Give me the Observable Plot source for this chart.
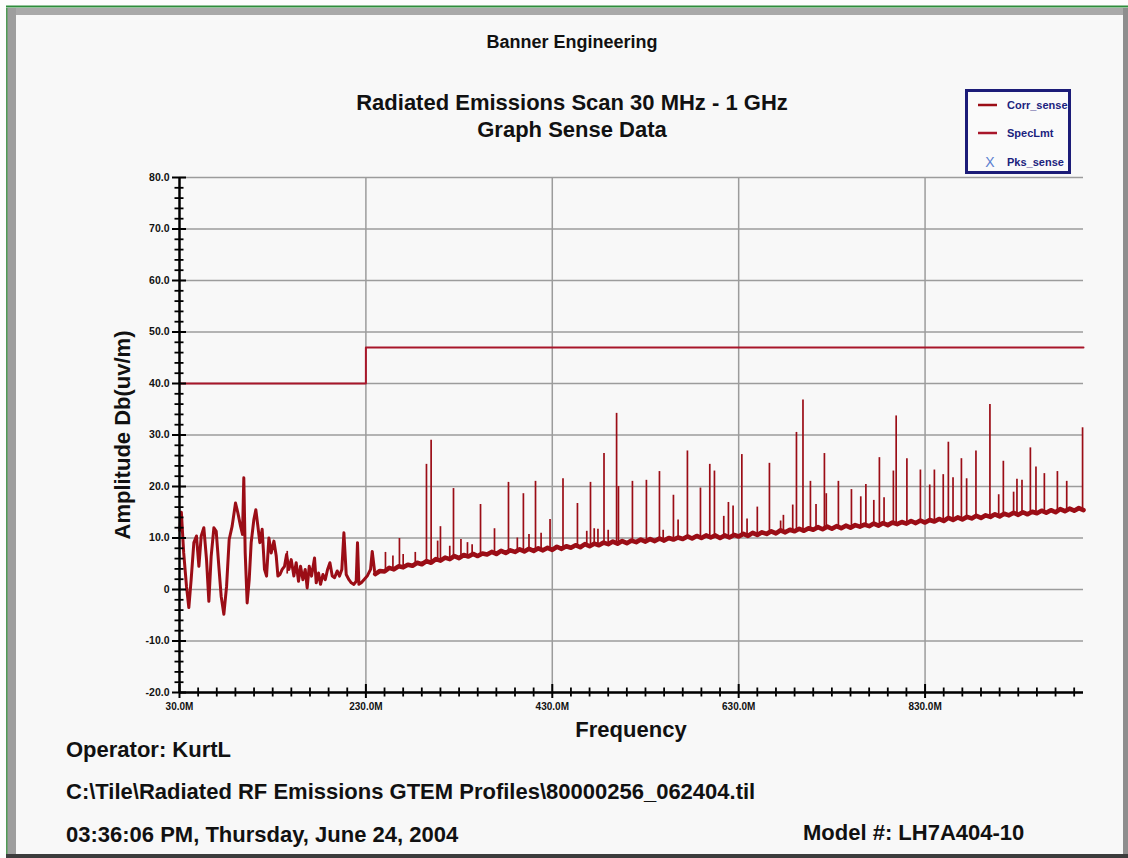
<!DOCTYPE html>
<html>
<head>
<meta charset="utf-8">
<script src="https://cdn.jsdelivr.net/npm/d3@7"></script>
<script src="https://cdn.jsdelivr.net/npm/@observablehq/plot@0.6"></script>
<style>
  html, body { margin: 0; padding: 0; background: #fdfdfd; }
  #chart { position: relative; width: 1128px; height: 858px; }
</style>
</head>
<body>
<div id="chart"></div>
<script>
// ---------- data ----------
const xMajorTicks = [30, 230, 430, 630, 830];
const xTickLabels = ["30.0M", "230.0M", "430.0M", "630.0M", "830.0M"];
const yMajorTicks = [-20, -10, 0, 10, 20, 30, 40, 50, 60, 70, 80];
const yTickLabels = ["-20.0", "-10.0", "0", "10.0", "20.0", "30.0", "40.0", "50.0", "60.0", "70.0", "80.0"];
const xGridLines = [230, 430, 630, 830];

// SpecLmt (limit line) : frequency MHz, amplitude dB
const limitFreq = [30, 230, 1000];
const limitAmp = [40, 47, 47];

// Corr_sense, low-frequency part (30 - 240 MHz) [MHz, dB]
const lowTrace = [
  [30.3, 11.5], [32, 15.0], [34.5, 7.1], [37.5, 0.6], [40, -3.5], [42.5, 1.9], [45.4, 9.1], [48.2, 10.4],
  [50.8, 4.5], [53.3, 10.4], [56.1, 12.0], [59, 5.8], [61.5, -2.3], [64, 6.5], [66.9, 12.0], [69.4, 11.3],
  [72.2, 4.5], [74.7, -1.3], [77.6, -4.8], [80.5, 0.6], [83.3, 9.7], [86.5, 12.3], [90.1, 16.8], [92.6, 14.9],
  [95.5, 12.3], [97.6, 10.7], [99, 21.7], [100.5, 7.1], [102.6, -2.6], [104.8, 1.9], [106.9, 9.1], [109.8, 13.6],
  [111.9, 15.5], [114.1, 12.3], [116.2, 9.1], [118.7, 11.7], [121.2, 3.9], [123.4, 2.6], [125.9, 10.0], [128.4, 7.1],
  [131.3, 9.4], [133.8, 6.5], [135.6, 2.6], [137.7, 2.9], [140.2, 3.9], [142.7, 4.5], [144.9, 6.8], [147.4, 3.9],
  [149.9, 5.8], [152.7, 2.6], [155.2, 5.2], [157.7, 1.6], [159.9, 4.5], [162.4, 1.9], [164.9, 3.9], [167, 0.3],
  [169.2, 4.5], [171.7, 2.6], [174.9, 6.1], [176.7, 1.3], [179.2, 3.2], [181.3, 1.0], [183.9, 2.9], [186.4, 1.9],
  [188.9, 3.9], [191.4, 5.2], [193.9, 2.6], [196.4, 2.3], [199.2, 3.6], [201.7, 2.6], [204.2, 3.9], [206.4, 11.0],
  [208.9, 2.9], [211.8, 1.9], [214.3, 1.3], [217.1, 1.0], [219.6, 1.6], [221, 9.1], [222.5, 1.0], [225, 1.3],
  [227.9, 1.9], [231.4, 2.6], [235, 3.9], [236.8, 7.4], [239.3, 3.6], [240, 3.0]
];

// Corr_sense, noise floor (240 - 1000 MHz) [MHz, dB]
const floorTrace = [
  [240, 3.0], [245, 3.6], [250, 3.5], [255, 4.2], [260, 3.9], [265, 4.5], [270, 4.3], [275, 4.8], [280, 4.6],
  [285, 5.2], [290, 4.9], [295, 5.5], [300, 5.2], [305, 5.9], [310, 5.6], [315, 6.2], [320, 5.9], [325, 6.5],
  [330, 6.1], [335, 6.7], [340, 6.4], [345, 6.9], [350, 6.5], [355, 7.0], [360, 6.8], [365, 7.3], [370, 6.9],
  [375, 7.5], [380, 7.1], [385, 7.6], [390, 7.3], [395, 7.8], [400, 7.4], [405, 7.9], [410, 7.5], [415, 8.0],
  [420, 7.6], [425, 8.1], [430, 7.7], [435, 8.3], [440, 7.9], [445, 8.4], [450, 8.1], [455, 8.6], [460, 8.2],
  [465, 8.8], [470, 8.4], [475, 8.9], [480, 8.6], [485, 9.1], [490, 8.8], [495, 9.3], [500, 8.9], [505, 9.4],
  [510, 9.0], [515, 9.5], [520, 9.2], [525, 9.7], [530, 9.3], [535, 9.8], [540, 9.4], [545, 9.9], [550, 9.5],
  [555, 10.0], [560, 9.7], [565, 10.1], [570, 9.8], [575, 10.3], [580, 9.9], [585, 10.4], [590, 10.0], [595, 10.5],
  [600, 10.1], [605, 10.5], [610, 10.0], [615, 10.5], [620, 10.1], [625, 10.6], [630, 10.3], [635, 10.8], [640, 10.4],
  [645, 11.0], [650, 10.6], [655, 11.1], [660, 10.8], [665, 11.3], [670, 10.9], [675, 11.5], [680, 11.1], [685, 11.6],
  [690, 11.3], [695, 11.8], [700, 11.4], [705, 11.9], [710, 11.6], [715, 12.1], [720, 11.7], [725, 12.2], [730, 11.8],
  [735, 12.3], [740, 11.9], [745, 12.4], [750, 12.0], [755, 12.5], [760, 12.2], [765, 12.6], [770, 12.3], [775, 12.8],
  [780, 12.4], [785, 12.9], [790, 12.5], [795, 13.0], [800, 12.7], [805, 13.1], [810, 12.8], [815, 13.3], [820, 12.9],
  [825, 13.4], [830, 13.0], [835, 13.5], [840, 13.2], [845, 13.7], [850, 13.3], [855, 13.9], [860, 13.5], [865, 14.0],
  [870, 13.6], [875, 14.1], [880, 13.8], [885, 14.3], [890, 13.9], [895, 14.4], [900, 14.1], [905, 14.6], [910, 14.2],
  [915, 14.7], [920, 14.4], [925, 14.9], [930, 14.5], [935, 15.0], [940, 14.6], [945, 15.1], [950, 14.8], [955, 15.3],
  [960, 14.9], [965, 15.4], [970, 15.0], [975, 15.6], [980, 15.2], [985, 15.7], [990, 15.3], [995, 15.8], [1000, 15.4]
];

// Corr_sense, emission spikes [MHz, peak dB, floor dB]
const spikes = [
  [145.6, 7.4, 3.0], [251, 7.2, 3.6], [259, 6.5, 3.9], [266, 9.9, 4.2], [270, 6.8, 4.3], [283, 7.2, 4.8],
  [295, 24.3, 5.3], [300, 29.0, 5.4], [307, 9.4, 5.6], [310, 12.2, 5.7], [320, 8.4, 6.0], [324, 19.6, 6.1],
  [332, 9.7, 6.3], [339, 9.1, 6.5], [344, 8.7, 6.6], [353, 16.5, 6.8], [368, 11.8, 7.1], [383, 20.8, 7.4],
  [392.5, 10.0, 7.5], [399, 18.6, 7.6], [405, 10.7, 7.7], [412, 21.0, 7.8], [418, 10.9, 7.8], [427.6, 13.6, 7.9],
  [441.5, 21.5, 8.1], [457, 16.7, 8.4], [467, 11.3, 8.6], [471, 20.8, 8.6], [475, 11.8, 8.7], [479, 11.7, 8.8],
  [485.5, 26.4, 8.9], [490, 11.5, 8.9], [499, 34.2, 9.0], [501, 20.0, 9.0], [516, 21.0, 9.2], [531, 21.2, 9.4],
  [545, 22.9, 9.6], [549, 11.5, 9.6], [560, 18.3, 9.8], [565, 13.5, 9.9], [575, 26.9, 10.0], [589, 19.7, 10.1],
  [599, 24.3, 10.2], [604, 23.0, 10.2], [614, 14.2, 10.2], [619, 16.9, 10.2], [624, 16.2, 10.3], [633.4, 26.2, 10.4],
  [639, 13.7, 10.5], [650, 16.0, 10.7], [663, 24.5, 10.9], [675, 13.3, 11.1], [678, 14.4, 11.2], [688, 16.4, 11.3],
  [692, 30.5, 11.4], [699, 36.8, 11.5], [707, 21.0, 11.6], [713, 16.5, 11.7], [722, 26.4, 11.9], [724, 18.6, 11.9],
  [737, 21.0, 12.1], [751, 19.4, 12.3], [761, 18.0, 12.4], [766.5, 20.4, 12.5], [775, 17.3, 12.6], [781, 25.6, 12.7],
  [786, 17.8, 12.8], [796, 23.0, 12.9], [799, 33.7, 12.9], [810.5, 25.4, 13.1], [825, 23.2, 13.2], [835, 20.3, 13.3],
  [840, 23.2, 13.4], [849.5, 22.3, 13.5], [855, 28.6, 13.6], [860, 21.7, 13.7], [869, 25.4, 13.8], [874.6, 21.5, 13.9],
  [884.6, 26.9, 14.0], [899.6, 35.9, 14.2], [909, 18.4, 14.4], [914, 24.9, 14.5], [925, 18.9, 14.6], [928.6, 21.4, 14.7],
  [934, 21.2, 14.7], [943, 27.5, 14.9], [949, 23.8, 15.0], [958, 22.5, 15.1], [972, 22.9, 15.3], [982, 21.0, 15.4],
  [999, 31.4, 15.5]
];

const legendItems = ["Corr_sense", "SpecLmt", "Pks_sense"];

// ---------- chart ----------
const traceColor = "#9b0d16";
const limitColor = "#a8162a";
const gridColor = "#9c9c9c";
const limitData = limitFreq.map((f, i) => ({f, a: limitAmp[i]}));
const yMinor = d3.range(-20, 80.1, 2).filter(v => v % 10 !== 0);
const xMinor = d3.range(30, 1000, 20).filter(v => (v - 30) % 200 !== 0);

const plot = Plot.plot({
  width: 1128,
  height: 858,
  marginLeft: 179,
  marginRight: 45,
  marginTop: 177,
  marginBottom: 166,
  x: {domain: [30, 1000]},
  y: {domain: [-20, 80]},
  style: {background: "transparent", fontFamily: "Liberation Sans, Arial, sans-serif", color: "#111"},
  marks: [
    Plot.gridY(yMajorTicks, {stroke: gridColor, strokeOpacity: 1, strokeWidth: 1.5}),
    Plot.gridX(xGridLines, {stroke: gridColor, strokeOpacity: 1, strokeWidth: 1.5}),
    Plot.line(limitData, {x: "f", y: "a", curve: "step-after", stroke: limitColor, strokeWidth: 2}),
    Plot.ruleX(spikes, {x: d => d[0], y1: d => d[2], y2: d => d[1], stroke: traceColor, strokeWidth: 1.7}),
    Plot.line(lowTrace, {x: d => d[0], y: d => d[1], stroke: traceColor, strokeWidth: 3, strokeLinejoin: "round"}),
    Plot.line(floorTrace, {x: d => d[0], y: d => d[1], stroke: traceColor, strokeWidth: 4.6, strokeLinejoin: "round"}),
    // axis lines
    Plot.ruleX([30], {y1: -20, y2: 80, stroke: "#000", strokeWidth: 2.5}),
    Plot.ruleY([-20], {x1: 30, x2: 1000, stroke: "#000", strokeWidth: 2.5}),
    // ticks crossing the axes
    Plot.ruleY(yMajorTicks, {y: d => d, x1: () => 30, x2: () => 30, insetLeft: -7, insetRight: -7, stroke: "#000", strokeWidth: 2}),
    Plot.ruleY(yMinor, {y: d => d, x1: () => 30, x2: () => 30, insetLeft: -4.5, insetRight: -4.5, stroke: "#000", strokeWidth: 1.8}),
    Plot.ruleX(xMajorTicks, {x: d => d, y1: () => -20, y2: () => -20, insetTop: -8, insetBottom: -6, stroke: "#000", strokeWidth: 2}),
    Plot.ruleX(xMinor, {x: d => d, y1: () => -20, y2: () => -20, insetTop: -4.5, insetBottom: -4.5, stroke: "#000", strokeWidth: 1.8}),
    Plot.axisY(yMajorTicks, {tickSize: 0, tickPadding: 10, fontSize: 10.5, fontWeight: "bold", tickFormat: d => yTickLabels[yMajorTicks.indexOf(d)], label: null}),
    Plot.axisX(xMajorTicks, {tickSize: 0, tickPadding: 10, fontSize: 10, fontWeight: "bold", tickFormat: d => xTickLabels[xMajorTicks.indexOf(d)], label: null})
  ]
});

document.getElementById("chart").appendChild(plot);

// ---------- page decoration, titles, legend ----------
const svg = d3.select(plot);
const FONT = "Liberation Sans, Arial, sans-serif";
const deco = svg.insert("g", ":first-child");
deco.append("rect").attr("x", 0).attr("y", 0).attr("width", 1128).attr("height", 858).attr("fill", "#fdfdfd");
deco.append("rect").attr("x", 16).attr("y", 15).attr("width", 1107).attr("height", 839).attr("fill", "#f8f8f8");
deco.append("rect").attr("x", 6).attr("y", 8).attr("width", 1122).attr("height", 7).attr("fill", "#a9a9a9");
deco.append("rect").attr("x", 6).attr("y", 5.5).attr("width", 1122).attr("height", 2).attr("fill", "#2e8c3c");
deco.append("rect").attr("x", 6).attr("y", 8).attr("width", 10).attr("height", 850).attr("fill", "#9e9e9e");
deco.append("rect").attr("x", 6).attr("y", 8).attr("width", 1.5).attr("height", 850).attr("fill", "#4f9a55");
deco.append("rect").attr("x", 1123).attr("y", 8).attr("width", 5).attr("height", 850).attr("fill", "#8e8e8e");
deco.append("rect").attr("x", 6).attr("y", 854).attr("width", 1122).attr("height", 4).attr("fill", "#3c3c3c");

const txt = (s, x, y, size, anchor = "start") =>
  svg.append("text").attr("x", x).attr("y", y).attr("font-size", size).attr("text-anchor", anchor)
     .attr("font-family", FONT).attr("font-weight", "bold").style("font-weight", "bold")
     .attr("fill", "#111").text(s);

txt("Banner Engineering", 572, 48, 18, "middle");
txt("Radiated Emissions Scan 30 MHz - 1 GHz", 572, 110, 22, "middle");
txt("Graph Sense Data", 572, 137, 22, "middle");
txt("Frequency", 631, 737, 22, "middle");
svg.append("text").attr("transform", "translate(130,435) rotate(-90)").attr("text-anchor", "middle")
   .attr("font-family", FONT).style("font-weight", "bold")
   .attr("font-size", 22).attr("fill", "#111").text("Amplitude Db(uv/m)");
txt("Operator: KurtL", 66, 757, 22);
txt("C:\\Tile\\Radiated RF Emissions GTEM Profiles\\80000256_062404.til", 66, 799, 22);
txt("03:36:06 PM, Thursday, June 24, 2004", 66, 842, 22);
txt("Model #: LH7A404-10", 803, 840, 22);

// bold tick labels
svg.selectAll("g[aria-label$='tick label'] text").style("font-weight", "bold");

// legend
const lg = svg.append("g");
lg.append("rect").attr("x", 966.5).attr("y", 90.5).attr("width", 103).attr("height", 82)
  .attr("fill", "#fafafa").attr("stroke", "#1c1c78").attr("stroke-width", 3);
const rowY = [105, 133, 162];
legendItems.forEach((name, i) => {
  if (i < 2) {
    lg.append("line").attr("x1", 978).attr("x2", 997).attr("y1", rowY[i]).attr("y2", rowY[i])
      .attr("stroke", i === 0 ? traceColor : limitColor).attr("stroke-width", 2.5);
  } else {
    lg.append("text").attr("x", 990).attr("y", rowY[i] + 5).attr("text-anchor", "middle")
      .attr("font-family", FONT).attr("font-size", 14).style("font-weight", "normal")
      .attr("fill", "#5b7fd0").text("X");
  }
  lg.append("text").attr("x", 1007).attr("y", rowY[i] + 4).attr("font-size", 11).attr("text-anchor", "start")
    .attr("font-family", FONT).style("font-weight", "bold")
    .attr("fill", "#1a237e").text(name);
});
</script>
</body>
</html>
